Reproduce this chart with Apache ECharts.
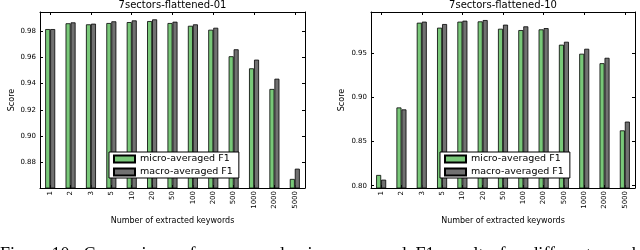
<!DOCTYPE html>
<html><head><meta charset="utf-8">
<script src="https://cdn.jsdelivr.net/npm/echarts@6/dist/echarts.min.js"></script>
<style>html,body{margin:0;padding:0;background:#fff}#c{width:640px;height:250px}</style>
</head><body><div id="c"></div>
<script>
const categories = ['1','2','3','5','10','20','50','100','200','500','1000','2000','5000'];
const micro01 = [0.9815,0.9859,0.9851,0.9861,0.9868,0.9876,0.9861,0.9840,0.9810,0.9608,0.9516,0.9359,0.8674];
const macro01 = [0.9815,0.9866,0.9856,0.9874,0.9881,0.9889,0.9871,0.9851,0.9825,0.9661,0.9582,0.9437,0.8752];
const micro10 = [0.8121,0.8883,0.9839,0.9783,0.9851,0.9854,0.9771,0.9756,0.9764,0.9591,0.9489,0.9382,0.8624];
const macro10 = [0.8068,0.8861,0.9851,0.9824,0.9862,0.9869,0.9817,0.9798,0.9778,0.9624,0.9545,0.9443,0.8723];
const ticks01 = [0.88,0.90,0.92,0.94,0.96,0.98];
const ticks10 = [0.80,0.85,0.90,0.95];
const titles = ['7sectors-flattened-01','7sectors-flattened-10'];
const seriesNames = ['micro-averaged F1','macro-averaged F1'];
const xName = 'Number of extracted keywords';
const yName = 'Score';
const caption = 'Figure 10:  Comparison  of  macro  and  micro-averaged  F1  results  for  different  number  of  extracted  keywords';

const FONT = 'DejaVu Sans';
const GREEN = '#79c879', GRAY = '#717171';
const chart = echarts.init(document.getElementById('c'), null, {renderer:'canvas'});

const line = {show:true, lineStyle:{color:'#000', width:1}};
const tick = {show:true, inside:true, length:3, lineStyle:{color:'#000', width:1}};
function xAxes(gi){
  return [
    {type:'category', gridIndex:gi, data:categories, position:'bottom', axisLine:line,
     axisTick:Object.assign({alignWithLabel:true}, tick),
     axisLabel:{rotate:90, margin:3, fontFamily:FONT, fontSize:7, color:'#000', interval:0},
     name:xName, nameLocation:'middle', nameGap:23, nameTextStyle:{fontFamily:FONT, fontSize:8, color:'#000'}},
    {type:'category', gridIndex:gi, data:categories, position:'top', axisLine:line,
     axisTick:Object.assign({alignWithLabel:true}, tick), axisLabel:{show:false}}
  ];
}
function yAxes(gi, min, max, list, gap){
  return [
    {type:'value', gridIndex:gi, min:min, max:max, position:'left', axisLine:line,
     axisTick:Object.assign({customValues:list}, tick),
     splitLine:{show:false},
     axisLabel:{customValues:list, formatter:v => v.toFixed(2), margin:4, fontFamily:FONT, fontSize:7, color:'#000'},
     name:yName, nameLocation:'middle', nameGap:gap, nameTextStyle:{fontFamily:FONT, fontSize:8, color:'#000'}},
    {type:'value', gridIndex:gi, min:min, max:max, position:'right', axisLine:line,
     axisTick:Object.assign({customValues:list}, tick),
     splitLine:{show:false}, axisLabel:{show:false}}
  ];
}
function bar(name, data, color, xi, yi){
  return {type:'bar', name:name, data:data, xAxisIndex:xi, yAxisIndex:yi, barWidth:5, barGap:'0%',
    itemStyle:{color:color, borderColor:'#000', borderWidth:0.8}, animation:false};
}
function legend(left){
  return {left:left, top:152, orient:'vertical', data:seriesNames, icon:'rect', itemWidth:21, itemHeight:7,
    itemGap:3, padding:[2,6,1,4], backgroundColor:'#fff', borderColor:'#000', borderWidth:1, z:20,
    selectedMode:false, textStyle:{fontFamily:FONT, fontSize:9.5, color:'#000', lineHeight:10}};
}
chart.setOption({
  animation:false,
  title:[
    {text:titles[0], left:172.5, top:0, padding:0, textAlign:'center', textStyle:{fontFamily:FONT, fontSize:10, fontWeight:'normal', color:'#000'}},
    {text:titles[1], left:503, top:0, padding:0, textAlign:'center', textStyle:{fontFamily:FONT, fontSize:10, fontWeight:'normal', color:'#000'}}
  ],
  grid:[
    {left:40, right:335, top:12, bottom:62},
    {left:371, right:5, top:12, bottom:62}
  ],
  legend:[legend(109), legend(440)],
  xAxis:[...xAxes(0), ...xAxes(1)],
  yAxis:[...yAxes(0, 0.8605, 0.9945, ticks01, 24), ...yAxes(1, 0.7974, 0.996, ticks10, 25)],
  series:[
    bar(seriesNames[0], micro01, GREEN, 0, 0),
    bar(seriesNames[1], macro01, GRAY, 0, 0),
    bar(seriesNames[0], micro10, GREEN, 2, 2),
    bar(seriesNames[1], macro10, GRAY, 2, 2)
  ],
  graphic:[{type:'text', left:0, top:246, style:{text:caption, fontFamily:'Liberation Serif', fontSize:18, fill:'#000'}}]
});
</script></body></html>
